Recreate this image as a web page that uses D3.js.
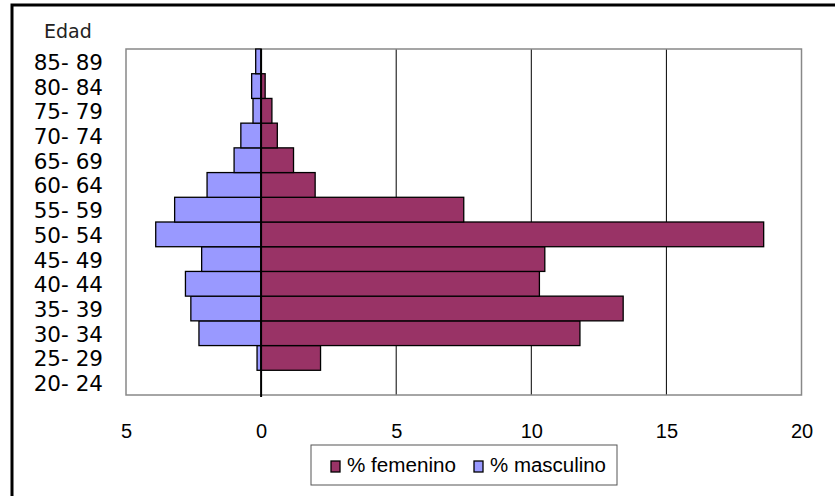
<!DOCTYPE html>
<html>
<head>
<meta charset="utf-8">
<script src="https://cdn.jsdelivr.net/npm/d3@7"></script>
<style>
  body { margin: 0; background: #fff; }
  svg { display: block; }
</style>
</head>
<body>
<svg id="chart" width="835" height="496"></svg>
<script>
// Data (youngest to oldest)
let ages = ["20- 24","25- 29","30- 34","35- 39","40- 44","45- 49","50- 54","55- 59","60- 64","65- 69","70- 74","75- 79","80- 84","85- 89"]
let femenino = [0, 2.2, 11.8, 13.4, 10.3, 10.5, 18.6, 7.5, 2.0, 1.2, 0.6, 0.4, 0.15, 0]
let masculino = [0, 0.15, 2.3, 2.6, 2.8, 2.2, 3.9, 3.2, 2.0, 1.0, 0.75, 0.3, 0.35, 0.2]
let xTicks = [-5, 0, 5, 10, 15, 20]
let seriesNames = ["% femenino", "% masculino"]
let colors = ["#993366", "#9999ff"]

let svg = d3.select("#chart")

// Outer frame
svg.append("rect")
  .attr("x", 12).attr("y", 5)
  .attr("width", 900).attr("height", 600)
  .attr("fill", "none").attr("stroke", "#000").attr("stroke-width", 3)

// Scales
let x = d3.scaleLinear().domain([-5, 20]).range([126, 801.5])
let y = d3.scaleBand().domain(ages.slice().reverse()).range([49, 395]).paddingInner(0)

let rows = ages.map((a, i) => ({age: a, f: femenino[i], m: masculino[i]}))

// Gridlines
svg.append("g").selectAll("line")
  .data(xTicks.filter(t => t !== -5 && t !== 0 && t !== 20))
  .join("line")
  .attr("x1", d => x(d)).attr("x2", d => x(d))
  .attr("y1", 49).attr("y2", 395)
  .attr("stroke", "#000").attr("stroke-width", 1)

// Plot area border
svg.append("rect")
  .attr("x", x(-5)).attr("y", 49)
  .attr("width", x(20) - x(-5)).attr("height", 395 - 49)
  .attr("fill", "none").attr("stroke", "#888").attr("stroke-width", 1.5)

// Bars
svg.append("g").selectAll("rect")
  .data(rows.filter(d => d.m > 0))
  .join("rect")
  .attr("x", d => x(-d.m)).attr("y", d => y(d.age))
  .attr("width", d => x(0) - x(-d.m)).attr("height", y.bandwidth())
  .attr("fill", colors[1]).attr("stroke", "#000").attr("stroke-width", 1.3)

svg.append("g").selectAll("rect")
  .data(rows.filter(d => d.f > 0))
  .join("rect")
  .attr("x", x(0)).attr("y", d => y(d.age))
  .attr("width", d => x(d.f) - x(0)).attr("height", y.bandwidth())
  .attr("fill", colors[0]).attr("stroke", "#000").attr("stroke-width", 1.3)

// Zero axis line
svg.append("line")
  .attr("x1", x(0)).attr("x2", x(0))
  .attr("y1", 49).attr("y2", 397)
  .attr("stroke", "#000").attr("stroke-width", 2)

// Category labels
svg.append("g").selectAll("text")
  .data(ages)
  .join("text")
  .attr("x", 103)
  .attr("y", d => y(d) + y.bandwidth() / 2 + 8.5)
  .attr("text-anchor", "end")
  .attr("font-family", "DejaVu Sans")
  .attr("font-size", 21.5)
  .attr("fill", "#000")
  .text(d => d)

svg.append("text")
  .attr("x", 44).attr("y", 38)
  .attr("font-family", "DejaVu Sans")
  .attr("font-size", 19)
  .attr("fill", "#222")
  .text("Edad")

// X axis labels
let xAxis = d3.axisBottom(x).tickValues(xTicks).tickSize(0).tickFormat(d => Math.abs(d))
let gx = svg.append("g").attr("transform", "translate(0,421)").call(xAxis)
gx.select(".domain").remove()
gx.selectAll("text")
  .attr("font-family", "Liberation Sans, Arial, sans-serif")
  .attr("font-size", 20)
  .attr("fill", "#000")

// Legend
let lg = svg.append("g")
lg.append("rect")
  .attr("x", 311).attr("y", 445)
  .attr("width", 306).attr("height", 40)
  .attr("fill", "#fff").attr("stroke", "#555").attr("stroke-width", 1)

let legendX = [331, 474]
let legendW = [109, 116]
seriesNames.forEach((name, i) => {
  lg.append("rect")
    .attr("x", legendX[i]).attr("y", 461)
    .attr("width", 9).attr("height", 11)
    .attr("fill", colors[i]).attr("stroke", "#000").attr("stroke-width", 1.3)
  lg.append("text")
    .attr("x", legendX[i] + 16).attr("y", 472)
    .attr("font-family", "Liberation Sans, Arial, sans-serif")
    .attr("font-size", 20)
    .attr("textLength", legendW[i])
    .attr("lengthAdjust", "spacingAndGlyphs")
    .attr("fill", "#000")
    .text(name)
})
</script>
</body>
</html>
